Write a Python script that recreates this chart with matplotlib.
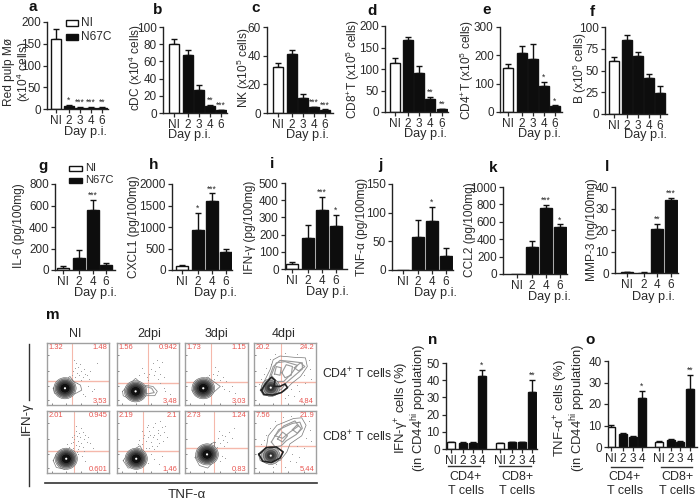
import matplotlib
matplotlib.use('Agg')
from matplotlib import pyplot as plt
from matplotlib.patches import Ellipse, Rectangle
from matplotlib.lines import Line2D

plt.rcParams['font.family'] = ['Liberation Sans', 'DejaVu Sans']
plt.rcParams['mathtext.default'] = 'regular'

W = 700
H = 503
TXT = '#2a2a2a'
RED = '#e85550'
PINK = '#f5b8ab'

# bar values, tops of error bars, stars
a_vals = [162, 8, 3, 3, 3]
a_errs = [185, 9, 4, 4, 4]
a_star = ['', '*', '***', '***', '**']
b_vals = [80, 67, 27, 8, 3.5]
b_errs = [85.5, 73, 32, 9.5, 4]
b_star = ['', '', '', '**', '***']
c_vals = [32, 41, 10.5, 4, 2]
c_errs = [35, 44, 13.5, 4.5, 2.5]
c_star = ['', '', '', '***', '***']
d_vals = [115, 167, 90, 30, 7]
d_errs = [125, 175, 107, 35, 8]
d_star = ['', '', '', '**', '**']
e_vals = [157, 208, 186, 92, 21]
e_errs = [168, 232, 240, 107, 23]
e_star = ['', '', '', '*', '*']
f_vals = [61, 85, 67, 41, 24]
f_errs = [66, 91, 71, 46, 32]
f_star = ['', '', '', '', '']
g_vals = [20, 115, 555, 45]
g_errs = [33, 185, 650, 65]
g_star = ['', '', '***', '']
h_vals = [90, 930, 1600, 420]
h_errs = [105, 1320, 1780, 490]
h_star = ['', '*', '***', '']
i_vals = [28, 183, 345, 250]
i_errs = [38, 255, 420, 312]
i_star = ['', '', '***', '*']
j_vals = [0, 57, 86, 24]
j_errs = [0, 88, 110, 39]
j_star = ['', '', '*', '']
k_vals = [0, 305, 755, 545]
k_errs = [0, 380, 790, 570]
k_star = ['', '', '***', '*']
l_vals = [0.4, 0.2, 20.3, 34]
l_errs = [0.6, 0.3, 23, 35]
l_star = ['', '', '**', '***']
n_vals = [3.8, 3.6, 3.5, 42.3, 3.2, 3.9, 4, 33]
n_errs = [4.2, 3.9, 4, 46, 3.5, 4.1, 4.2, 40]
n_star = ['', '', '', '*', '', '', '', '**']
o_vals = [9.3, 6, 4.6, 23, 2.2, 3.2, 2.4, 27]
o_errs = [10.3, 6.3, 5.2, 26, 2.6, 3.5, 2.7, 33.5]
o_star = ['', '', '', '*', '', '', '', '**']

five_days = ['NI', '2', '3', '4', '6']
four_days = ['NI', '2', '4', '6']
group_days = ['NI', '2', '3', '4', 'NI', '2', '3', '4']

# flow plots: percent labels (upper left, upper right, lower right)
m_labels = [['1.32', '1.48', '3.53'], ['1.56', '0.942', '3.48'], ['1.73', '1.15', '3.03'], ['20.2', '24.2', '4.84'],
            ['2.01', '0.945', '0.601'], ['2.19', '2.1', '1.46'], ['2.73', '1.24', '0.83'], ['7.56', '21.9', '5.44']]
m_gates = [(41, 38), (50, 36), (42, 37), (43, 37), (44, 35), (42, 35), (46, 40), (43, 44)]
m_cores = [(29, 27), (30, 22), (29, 27), (27, 28), (31, 23), (31, 23), (35, 30), (27, 28)]
m_outer = [
    [(10, 27), (18, 36), (29, 40), (37, 46), (43, 38), (54, 32), (56, 24), (45, 18), (34, 15), (21, 15), (12, 19)],
    [(9, 22), (18, 32), (30, 43), (42, 32), (58, 30), (65, 22), (61, 15), (48, 15), (37, 12), (18, 11), (10, 15)],
    [(11, 24), (17, 35), (36, 45), (56, 30), (44, 19), (33, 15), (17, 15)],
    [(10, 24), (18, 41), (26, 57), (31, 73), (42, 79), (64, 77), (83, 76), (86, 62), (75, 46), (61, 35), (48, 22), (31, 15), (15, 16)],
    [(10, 20), (15, 31), (27, 36), (37, 36), (45, 25), (42, 15), (28, 6), (15, 9)],
    [(10, 20), (18, 31), (29, 39), (37, 44), (43, 33), (45, 20), (37, 10), (18, 8)],
    [(16, 25), (23, 39), (36, 44), (47, 50), (47, 33), (47, 20), (36, 8), (23, 12)],
    [(7, 31), (20, 42), (23, 60), (37, 77), (64, 88), (77, 89), (84, 77), (77, 60), (58, 47), (53, 34), (42, 20), (20, 16), (10, 20)],
]
m_inner = {
    1: [[(45, 30), (56, 27), (60, 20), (50, 18), (44, 20)]],
    3: [[(15, 26), (24, 42), (31, 62), (42, 72), (62, 70), (78, 68), (78, 58), (65, 47), (52, 36), (44, 25), (28, 20)],
        [(45, 52), (52, 65), (62, 62), (60, 48), (50, 44)],
        [(65, 60), (75, 68), (82, 62), (72, 55)],
        [(33, 50), (36, 62), (44, 60), (42, 48)],
        [(28, 48), (36, 68), (50, 70), (70, 64), (60, 50), (48, 38), (36, 38)]],
    7: [[(28, 50), (40, 70), (62, 80), (74, 82), (78, 72), (68, 62), (52, 52), (44, 44), (34, 42)],
        [(62, 70), (70, 78), (76, 72), (70, 64)],
        [(38, 55), (46, 66), (54, 60), (46, 50)],
        [(34, 60), (48, 76), (66, 84), (72, 76), (58, 66), (46, 56)]],
}
m_thick = {
    3: [(12, 24), (20, 36), (28, 45), (34, 40), (32, 30), (42, 30), (50, 34), (54, 28), (44, 20), (30, 16), (16, 17), (12, 24)],
    7: [(8, 30), (20, 41), (36, 42), (47, 34), (42, 24), (28, 17), (14, 19), (8, 30)],
}
m_dots = [
    [(45, 45), (48, 52), (42, 55), (45, 60), (52, 48), (55, 55), (50, 62), (58, 45), (60, 58), (62, 50), (47, 68), (44, 72), (65, 48),
     (55, 40), (68, 42), (72, 22), (76, 26), (66, 30), (80, 68), (70, 55), (58, 18), (62, 15), (48, 35), (40, 48), (53, 66)],
    [(48, 45), (52, 50), (44, 52), (55, 58), (60, 48), (62, 55), (68, 62), (66, 42), (70, 50), (58, 68), (72, 70), (40, 60), (75, 28),
     (78, 22), (70, 35), (50, 40), (85, 18), (36, 48), (65, 72), (76, 45)],
    [(46, 42), (50, 48), (55, 40), (60, 45), (44, 50), (58, 30), (62, 26), (70, 22), (52, 55), (65, 38), (48, 62), (38, 48), (74, 30), (80, 20)],
    [(20, 60), (16, 50), (25, 75), (34, 82), (50, 84), (70, 82), (88, 72), (90, 58), (80, 48), (70, 32), (60, 26), (55, 16), (72, 22),
     (82, 35), (12, 42), (28, 66), (92, 42), (8, 34), (50, 12), (65, 14)],
    [(42, 40), (46, 45), (38, 48), (50, 52), (44, 55), (55, 48), (60, 55), (48, 60), (52, 65), (58, 42), (62, 62), (40, 58), (46, 68),
     (55, 72), (65, 50), (36, 42), (60, 36), (50, 38), (42, 50), (54, 58), (70, 48), (47, 76), (32, 46), (56, 28), (62, 20), (50, 30),
     (44, 62), (58, 66), (66, 58), (52, 44), (48, 34), (30, 40), (74, 40)],
    [(40, 46), (46, 52), (50, 58), (55, 50), (60, 62), (64, 55), (44, 62), (52, 68), (58, 74), (66, 70), (70, 62), (72, 74), (62, 80),
     (48, 74), (56, 44), (36, 54), (40, 68), (68, 48), (76, 66), (78, 76), (80, 58), (52, 40), (60, 38), (46, 40), (34, 46), (50, 78),
     (70, 84), (58, 58), (64, 44), (74, 52), (42, 56), (54, 62), (66, 64), (50, 16), (60, 22), (55, 30), (72, 28), (30, 38), (68, 14)],
    [(48, 50), (52, 56), (56, 48), (60, 54), (64, 60), (58, 62), (50, 42), (62, 44), (66, 50), (70, 66), (74, 56), (54, 68), (42, 48),
     (58, 28), (64, 24), (55, 20), (78, 72), (38, 44)],
    [(20, 62), (26, 72), (34, 84), (46, 90), (60, 92), (88, 84), (90, 70), (84, 56), (70, 44), (62, 30), (58, 20), (72, 26), (12, 46),
     (16, 54), (36, 14), (50, 10), (80, 40), (68, 18), (30, 10), (92, 52)],
]
m_days = ['NI', '2dpi', '3dpi', '4dpi']

fig = plt.figure(figsize=(W / 100, H / 100), dpi=100)


def ftext(x, y, s, **kw):
    kw.setdefault('ha', 'center')
    kw.setdefault('va', 'center')
    kw.setdefault('color', TXT)
    kw.setdefault('ma', 'center')
    fig.text(x / W, 1 - y / H, s, **kw)


def fline(xs, ys, lw=1.0, color='#333333'):
    fig.add_artist(Line2D([x / W for x in xs], [1 - y / H for y in ys], lw=lw, color=color))


def bar_panel(rect, centers, vals, errs, stars, labels, yticks, ylim, bw=10, fs=8.5):
    left, right, bottom, top = rect
    ax = fig.add_axes([left / W, 1 - bottom / H, (right - left) / W, (bottom - top) / H])
    ax.set_xlim(left, right)
    ax.set_ylim(0, ylim)
    for n, cx in enumerate(centers):
        if n == 0 or (len(centers) == 8 and n == 4):
            fc = 'white'
        else:
            fc = '#0d0d0d'
        ax.bar(cx, vals[n], width=bw, facecolor=fc, edgecolor='#111111', linewidth=1.0, zorder=2)
        if errs[n] > vals[n]:
            ax.errorbar(cx, vals[n], yerr=[[0], [errs[n] - vals[n]]], color='#111111', elinewidth=1.0, capsize=2.4,
                        capthick=1.0, zorder=1)
        if stars[n]:
            ax.text(cx, errs[n] + ylim * 0.002, stars[n], ha='center', va='bottom', fontsize=6.2, color=TXT,
                    linespacing=0.5)
    for s in ['top', 'right']:
        ax.spines[s].set_visible(False)
    for s in ['left', 'bottom']:
        ax.spines[s].set_linewidth(1.0)
        ax.spines[s].set_color('#222222')
    ax.set_xticks(centers)
    ax.set_xticklabels(labels)
    ax.set_yticks(yticks)
    ax.tick_params(axis='both', labelsize=fs, length=3, width=0.9, pad=1.5, colors=TXT)
    ax.patch.set_alpha(0)
    return ax


bar_panel((47, 108, 109, 22), [56, 69, 80, 91, 102], a_vals, a_errs, a_star, five_days, [0, 50, 100, 150, 200], 200)
bar_panel((163, 227, 113, 27), [174, 188, 199, 210, 221], b_vals, b_errs, b_star, five_days, [0, 20, 40, 60, 80, 100], 100)
bar_panel((267, 333, 113, 27), [278, 292, 303, 314, 325], c_vals, c_errs, c_star, five_days, [0, 20, 40, 60], 60)
bar_panel((385, 448, 112, 26), [395, 408, 419, 430, 442], d_vals, d_errs, d_star, five_days, [0, 50, 100, 150, 200], 200)
bar_panel((500, 562, 112, 27), [508, 522, 533, 544, 555], e_vals, e_errs, e_star, five_days, [0, 100, 200, 300], 300)
bar_panel((605, 667, 114, 27), [614, 627, 638, 649, 660], f_vals, f_errs, f_star, five_days, [0, 25, 50, 75, 100], 100)

bar_panel((55, 115, 270, 184), [63, 79, 93, 106], g_vals, g_errs, g_star, four_days, [0, 200, 400, 600, 800], 800, bw=12)
bar_panel((172, 232, 270, 184), [182, 198, 212, 226], h_vals, h_errs, h_star, four_days, [0, 500, 1000, 1500, 2000], 2000, bw=12)
bar_panel((285, 347, 269, 183), [292, 308, 322, 336], i_vals, i_errs, i_star, four_days, [0, 100, 200, 300, 400, 500], 500, bw=12)
bar_panel((392, 453, 270, 184), [403, 418, 432, 446], j_vals, j_errs, j_star, four_days, [0, 50, 100, 150], 150, bw=12)
bar_panel((503, 567, 274, 187), [517, 532, 546, 560], k_vals, k_errs, k_star, four_days, [0, 200, 400, 600, 800, 1000], 1000, bw=12)
bar_panel((615, 678, 273, 187), [627, 644, 657, 671], l_vals, l_errs, l_star, four_days, [0, 10, 20, 30, 40], 40, bw=12)

bar_panel((446, 537, 449, 363), [451, 463, 473, 482, 500, 512, 522, 532], n_vals, n_errs, n_star, group_days,
          [0, 10, 20, 30, 40, 50], 50, bw=8.5)
bar_panel((608, 697, 447, 361), [611, 623, 633, 642, 659, 671, 680, 690], o_vals, o_errs, o_star, group_days,
          [0, 10, 20, 30, 40], 40, bw=8.5)

# y axis titles
YF = dict(rotation=90, fontsize=8.6)
ftext(18, 72, 'Red pulp M\u00f8\n(x10$^{4}$ cells)', linespacing=0.95, **YF)
ftext(136, 68, 'cDC (x10$^{4}$ cells)', **YF)
ftext(244, 68, 'NK (x10$^{5}$ cells)', **YF)
ftext(353, 69, 'CD8$^{+}$T (x10$^{5}$ cells)', **YF)
ftext(467, 70, 'CD4$^{+}$T (x10$^{5}$ cells)', **YF)
ftext(580, 68, 'B (x10$^{5}$ cells)', **YF)
ftext(19, 226, 'IL-6 (pg/100mg)', **YF)
ftext(134, 227, 'CXCL1 (pg/100mg)', **YF)
ftext(250, 227, 'IFN-\u03b3 (pg/100mg)', **YF)
ftext(362, 227, 'TNF-\u03b1 (pg/100mg)', **YF)
ftext(470, 230, 'CCL2 (pg/100mg)', **YF)
ftext(592, 230, 'MMP-3 (ng/100mg)', **YF)
ftext(411, 408, 'IFN-\u03b3$^{+}$ cells (%)\n(in CD44$^{hi}$ population)', rotation=90, fontsize=9.4, linespacing=0.95)
ftext(570, 408, 'TNF-\u03b1$^{+}$ cells (%)\n(in CD44$^{hi}$ population)', rotation=90, fontsize=9.4, linespacing=0.95)

# day labels
for x, y in [(86, 132), (190, 135), (308, 135), (426, 134), (539, 134), (645, 135),
             (96, 293), (215, 293), (327, 292), (435, 293), (550, 297), (654, 297)]:
    ftext(x, y, 'Day p.i.', fontsize=9.2)

# panel letters
letters = ['a', 'b', 'c', 'd', 'e', 'f', 'g', 'h', 'i', 'j', 'k', 'l', 'm', 'n', 'o']
letter_pos = [(33, 7), (158, 10), (256, 8), (372, 11), (487, 10), (592, 12), (43, 166), (154, 165), (272, 164),
              (380, 165), (493, 168), (607, 167), (53, 315), (433, 340), (590, 340)]
for s, (x, y) in zip(letters, letter_pos):
    ftext(x, y, s, fontsize=11, fontweight='bold', color='#111111')

# legends
for x0, x1, ya, yb, tx, fs in [(66, 78, 23, 37, 81, 8.6), (69, 82, 168, 180, 85, 8.0)]:
    for y, fc, s in [(ya, 'white', 'NI'), (yb, '#0d0d0d', 'N67C')]:
        fig.add_artist(Rectangle((x0 / W, 1 - (y + 2.5) / H), (x1 - x0) / W, 5 / H, transform=fig.transFigure,
                                 facecolor=fc, edgecolor='#111111', lw=1.0))
        ftext(tx, y, s, fontsize=fs, ha='left')

# groups under n and o
for x0, x1, ly in [(448, 480, 466), (499, 531, 466), (611, 642, 467), (661, 692, 467)]:
    fline([x0, x1], [ly, ly], lw=1.0)
for cx, s in [(466, 'CD4+'), (517, 'CD8+'), (625, 'CD4+'), (677, 'CD8+')]:
    ftext(cx, 477, s, fontsize=9)
    ftext(cx, 491, 'T cells', fontsize=9)

# flow cytometry grid
col_edges = [(47, 109), (117, 179), (185, 248), (254, 316)]
row_edges = [(343, 405), (411, 473)]
for n in range(8):
    x0, x1 = col_edges[n % 4]
    y0, y1 = row_edges[n // 4]
    ax = fig.add_axes([x0 / W, 1 - y1 / H, (x1 - x0) / W, (y1 - y0) / H])
    ax.set_xlim(0, 100)
    ax.set_ylim(0, 100)
    gx, gy = m_gates[n]
    ax.axvline(gx, color=PINK, lw=0.8, zorder=1)
    ax.axhline(gy, color=PINK, lw=1.0, zorder=1)
    ax.scatter([p[0] for p in m_dots[n]], [p[1] for p in m_dots[n]], s=0.5, color='#999999', linewidths=0, zorder=2)
    out = m_outer[n] + m_outer[n][:1]
    ax.plot([p[0] for p in out], [p[1] for p in out], color='#777777', lw=0.5, zorder=3)
    for loop in m_inner.get(n, []):
        loop = loop + loop[:1]
        ax.plot([p[0] for p in loop], [p[1] for p in loop], color='#999999', lw=0.8, zorder=3)
    cx, cy = m_cores[n]
    # filled rings get darker towards the middle
    if n % 4 == 3:
        rings = [(15, '#bbbbbb'), (12, '#888888'), (9, '#555555'), (6, '#333333')]
    else:
        rings = [(18, '#c8c8c8'), (16, '#999999'), (14, '#6a6a6a'), (12, '#4a4a4a'), (10, '#2c2c2c'), (8, '#111111')]
    for r, col in rings:
        ax.add_patch(Ellipse((cx, cy), 2 * r, 1.9 * r, facecolor=col, edgecolor='#444444', lw=0.3, zorder=4))
    if n in m_thick:
        loop = m_thick[n]
        ax.plot([p[0] for p in loop], [p[1] for p in loop], color='#222222', lw=1.2, zorder=5)
    ax.add_patch(Ellipse((cx, cy), 3.5, 3.5, facecolor='white', edgecolor='none', zorder=6))
    labs = m_labels[n]
    ax.text(3, 92, labs[0], color=RED, fontsize=5.4, ha='left', va='center', zorder=7)
    ax.text(97, 92, labs[1], color=RED, fontsize=5.4, ha='right', va='center', zorder=7)
    ax.text(97, 6, labs[2], color=RED, fontsize=5.4, ha='right', va='center', zorder=7)
    for s in ax.spines.values():
        s.set_color('#a0a0a0')
        s.set_linewidth(1.0)
    ax.set_xticks([8, 30, 55, 80])
    ax.set_yticks([8, 30, 55, 80])
    ax.set_xticklabels([])
    ax.set_yticklabels([])
    ax.tick_params(length=1.2, width=0.5, color='#555555', direction='in')

for cx, s in zip([75, 149, 216, 284], m_days):
    ftext(cx, 334, s, fontsize=9)
ftext(322, 374, 'CD4$^{+}$ T cells', fontsize=8.8, ha='left')
ftext(322, 437, 'CD8$^{+}$ T cells', fontsize=8.8, ha='left')

fline([29, 29], [344, 400], lw=1.0)
fline([29, 29], [438, 486], lw=1.0)
ftext(27, 419, 'IFN-\u03b3', rotation=90, fontsize=9.6)
fline([45, 317], [483, 483], lw=1.2)
ftext(187, 495, 'TNF-\u03b1', fontsize=9.6)

fig.savefig('out.png', dpi=100)
